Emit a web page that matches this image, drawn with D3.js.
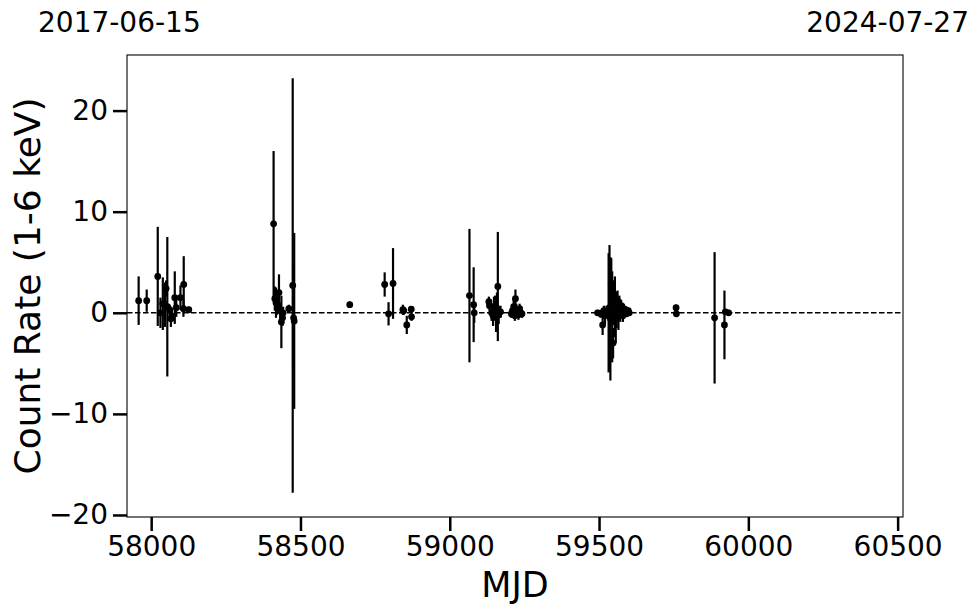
<!DOCTYPE html>
<html><head><meta charset="utf-8">
<script src="https://cdn.jsdelivr.net/npm/d3@7"></script>
<style>body{margin:0;background:#fff}svg{display:block}text{font-family:"DejaVu Sans",sans-serif;fill:#000}</style>
</head><body>
<svg id="c" width="980" height="613"></svg>
<script>
// Data: MJD, count rate (1-6 keV), 1-sigma error
const mjd = [
 57958,57985,58022,58031,58039,58046,58050,58054,58062,58066,58069,58079,58084,58098,58108,58109,58126,
 58410,58414,58418,58422,58428,58432,58436,58440,58442,58461,58474,58477,58479,
 58665,
 58782,58795,58810,58843,58846,58856,58871,58872,
 59066,59080,59082,59131,59133,59140,59145,59148,59152,59155,59158,59161,59164,59170,
 59206,59210,59214,59218,59220,59223,59226,59230,59234,59238,59242,
 59495,59505,59512,59516,59520,59525,59532,59535,59538,59541,59544,59547,59550,59553,59556,59559,
 59562,59565,59568,59571,59574,59577,59580,59583,59586,59589,59592,59595,59598,59601,
 59758,59759,59887,59920,59923,59934
];
const rate = [
 1.2,1.2,3.6,0.0,0.9,0.8,2.4,0.6,0.3,-0.6,-0.3,1.5,0.5,1.5,0.4,2.8,0.3,
 8.8,1.4,1.0,0.8,2.0,0.2,-0.9,-0.5,0.0,0.4,2.7,-0.5,-0.8,
 0.8,
 2.8,-0.1,2.9,0.3,0.2,-1.2,0.35,-0.4,
 1.7,0.8,0.0,1.1,0.7,0.0,-0.3,0.4,0.7,-0.4,0.2,2.6,-0.2,0.1,
 -0.1,0.2,0.6,-0.3,1.4,0.3,0.0,-0.2,0.4,0.0,-0.1,
 0.0,-0.1,-1.2,0.2,-0.3,0.1,0.0,0.5,-0.6,2.9,-0.4,-3.0,1.0,0.6,-0.5,0.3,
 1.2,-0.2,0.5,0.0,0.7,0.2,-0.3,0.4,0.1,0.3,-0.1,0.0,0.2,0.0,
 0.5,-0.1,-0.5,-1.2,0.1,0.0
];
const rateErr = [
 2.4,1.1,4.9,1.5,2.6,2.2,0.8,6.9,0.5,0.8,0.6,2.6,0.9,1.2,0.8,2.8,0.3,
 7.2,1.2,1.5,1.0,1.8,0.8,2.6,0.8,0.6,0.4,20.5,5.5,8.7,
 0.3,
 1.2,1.15,3.5,0.5,0.4,0.9,0.3,0.4,
 6.6,3.7,1.0,0.5,0.5,0.8,1.0,1.2,1.0,1.5,1.8,5.4,0.9,0.6,
 0.4,0.5,0.8,0.5,0.9,0.6,0.4,0.5,0.5,0.3,0.4,
 0.3,0.4,1.0,0.5,0.8,0.6,5.9,6.2,6.1,2.5,4.5,1.5,2.2,3.0,2.5,1.8,
 1.0,1.5,1.2,0.9,0.6,0.8,0.6,0.5,0.4,0.3,0.3,0.3,0.3,0.3,
 0.3,0.3,6.5,3.4,0.3,0.3
];
const xTicks = [58000,58500,59000,59500,60000,60500];
const yTicks = [-20,-10,0,10,20];
const xDomain = [57919,60518];
const yDomain = [-20.2,25.5];
const dateLeft = "2017-06-15", dateRight = "2024-07-27";
const xLabel = "MJD", yLabel = "Count Rate (1-6 keV)";

const svg = d3.select("#c");
const L=127, R=903, T=55, B=517;
const x = d3.scaleLinear().domain(xDomain).range([L,R]);
const y = d3.scaleLinear().domain(yDomain).range([B,T]);

// zero line
svg.append("line").attr("x1",L).attr("x2",R).attr("y1",y(0)).attr("y2",y(0))
  .attr("stroke","#000").attr("stroke-width",1.5).attr("stroke-dasharray","5.5,2.5");

const pts = mjd.map((m,i)=>({m, r:rate[i], e:rateErr[i]}));
const g = svg.append("g");
g.selectAll("line.eb").data(pts).join("line").attr("class","eb")
  .attr("x1",d=>x(d.m)).attr("x2",d=>x(d.m))
  .attr("y1",d=>y(d.r-d.e)).attr("y2",d=>y(d.r+d.e))
  .attr("stroke","#000").attr("stroke-width",2.2);
g.selectAll("circle").data(pts).join("circle")
  .attr("cx",d=>x(d.m)).attr("cy",d=>y(d.r)).attr("r",3.4).attr("fill","#000");

// frame
svg.append("rect").attr("x",L).attr("y",T).attr("width",R-L).attr("height",B-T)
  .attr("fill","none").attr("stroke","#000").attr("stroke-width",1.1);

// axes
const xa = svg.append("g").attr("transform",`translate(0,${B})`)
  .call(d3.axisBottom(x).tickValues(xTicks).tickFormat(d3.format("d")).tickSize(14).tickPadding(5));
const ya = svg.append("g").attr("transform",`translate(${L},0)`)
  .call(d3.axisLeft(y).tickValues(yTicks).tickFormat(d3.format("d")).tickSize(14).tickPadding(5));
[xa,ya].forEach(a=>{
  a.select(".domain").remove();
  a.selectAll(".tick line").attr("stroke","#000").attr("stroke-width",2.5);
  a.selectAll(".tick text").style("font-size","28px").attr("fill","#000").style("font-family","DejaVu Sans");
});

svg.append("text").attr("x",(L+R)/2).attr("y",597).attr("text-anchor","middle")
  .style("font-size","35px").text(xLabel);
svg.append("text").attr("transform",`translate(40,${(T+B)/2}) rotate(-90)`).attr("text-anchor","middle")
  .style("font-size","36px").text(yLabel);
svg.append("text").attr("x",38).attr("y",32).style("font-size","28px").text(dateLeft);
svg.append("text").attr("x",969).attr("y",32).attr("text-anchor","end").style("font-size","28px").text(dateRight);
</script>
</body></html>
